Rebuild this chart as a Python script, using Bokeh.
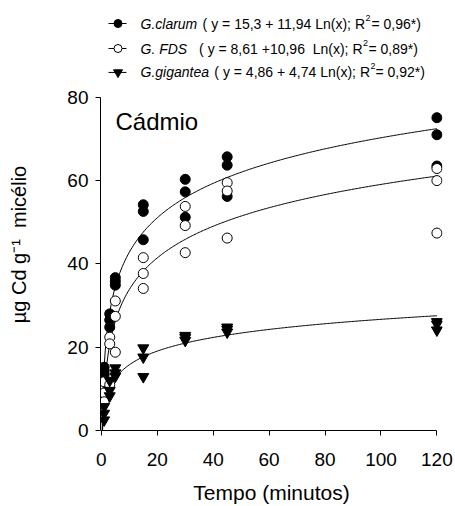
import numpy as np
from bokeh.plotting import figure
from bokeh.models import Range1d, FixedTicker
from bokeh.layouts import column
from bokeh.embed import file_html
from bokeh.resources import INLINE
from bokeh.core.properties import value

# ---------------- data ----------------
times = [1, 1, 1, 3, 3, 3, 5, 5, 5, 15, 15, 15, 30, 30, 30, 45, 45, 45, 120, 120, 120]
clarum = [15.2, 14.3, 13.4, 28.0, 26.5, 24.8, 36.7, 35.8, 34.9, 54.2, 52.6, 45.8,
          60.3, 57.3, 51.2, 65.7, 63.7, 56.2, 75.1, 71.0, 63.5]
fds = [11.7, 9.0, 6.9, 22.4, 20.8, 11.0, 31.1, 27.4, 18.8, 41.5, 37.7, 34.1,
       53.8, 49.2, 42.7, 59.5, 57.5, 46.2, 62.9, 60.0, 47.4]
gigantea = [5.7, 4.1, 2.5, 12.0, 9.6, 8.3, 15.0, 13.8, 13.0, 19.8, 17.6, 12.9,
            22.8, 22.3, 21.6, 24.8, 24.3, 23.6, 26.1, 25.5, 24.1]

species = ["G.clarum", "G. FDS", "G.gigantea"]
intercepts = [15.3, 8.61, 4.86]
slopes = [11.94, 10.96, 4.74]
eq_left = ["( y = 15,3 + 11,94 Ln(x); R", "( y = 8,61 +10,96\u00a0 Ln(x); R", "( y = 4,86 + 4,74 Ln(x); R"]
eq_sup = ["2", "2", "2"]
eq_right = ["= 0,96*)", "= 0,89*)", "= 0,92*)"]

x_ticks = [0, 20, 40, 60, 80, 100, 120]
y_ticks = [0, 20, 40, 60, 80]
x_label = "Tempo (minutos)"
y_label = "µg Cd g⁻¹\u00a0\u00a0micélio"
panel_title = "Cádmio"

FONT = "Liberation Sans"

# ---------------- layout constants (pixels) ----------------
W, H = 455, 506
LEG_H = 58            # height of the legend strip above the main figure
FR_L, FR_R = 100, 442  # main frame left/right
FR_B = 432            # main frame bottom (y = 0)
PX80 = 97             # pixel row of y = 80
X0, X1 = -0.3, 122.0
y_per_px = 80.0 / (FR_B - PX80)
Y_TOP = 80.0 + (PX80 - LEG_H) * y_per_px


def main_x(px):
    return X0 + (px - FR_L) * (X1 - X0) / (FR_R - FR_L)


def main_y(py):
    return (FR_B - py) * y_per_px


# ---------------- legend strip (top) ----------------
leg = figure(width=W, height=LEG_H, x_range=Range1d(FR_L, FR_R), y_range=Range1d(LEG_H, 0),
             x_axis_type=None, y_axis_type=None, toolbar_location=None,
             output_backend="svg", min_border_left=FR_L, min_border_right=W - FR_R,
             min_border_top=0, min_border_bottom=0)
leg.outline_line_color = None
leg.grid.visible = False

# ---------------- main plot ----------------
p = figure(width=W, height=H - LEG_H, x_range=Range1d(X0, X1), y_range=Range1d(0, Y_TOP),
           toolbar_location=None, output_backend="svg",
           min_border_left=FR_L, min_border_right=W - FR_R, min_border_top=0,
           min_border_bottom=H - FR_B)
p.outline_line_color = None
p.grid.visible = False

for ax in (p.xaxis[0], p.yaxis[0]):
    ax.axis_line_color = "black"
    ax.axis_line_width = 1
    ax.major_tick_line_color = "black"
    ax.major_tick_out = 5
    ax.major_tick_in = 0
    ax.minor_tick_line_color = None
    ax.major_label_text_font = FONT
    ax.major_label_text_font_size = "19px"
    ax.major_label_text_color = "black"
    ax.axis_label_text_font = FONT
    ax.axis_label_text_font_style = "normal"
    ax.axis_label_text_color = "black"

p.xaxis.ticker = FixedTicker(ticks=x_ticks)
p.yaxis.ticker = FixedTicker(ticks=y_ticks)
p.xaxis.bounds = (0, 120)
p.yaxis.bounds = (0, 80)
p.xaxis.major_label_standoff = 17
p.yaxis.major_label_standoff = 7
p.xaxis.axis_label = x_label
p.xaxis.axis_label_text_font_size = "21px"
p.xaxis.axis_label_standoff = 12
p.yaxis.axis_label = y_label
p.yaxis.axis_label_text_font_size = "20px"
p.yaxis.axis_label_standoff = 34

# regression curves from the legend equations
t_fit = np.concatenate([np.linspace(0.2, 1.0, 17), np.linspace(1.5, 120, 238)])
for a, b in zip(intercepts, slopes):
    p.line(t_fit, a + b * np.log(t_fit), line_color="black", line_width=1)

p.scatter(times, clarum, marker="circle", size=10, fill_color="black", line_color="black")
p.scatter(times, fds, marker="circle", size=10, fill_color="white", line_color="black", line_width=1)
p.scatter(times, gigantea, marker="inverted_triangle", size=11, fill_color="black", line_color="black")

p.text(x=[main_x(115)], y=[main_y(121)], text=[panel_title], text_font=value(FONT),
       text_font_size="24px", text_baseline="alphabetic", text_align="left", text_color="black")

# ---------------- legend rows ----------------
row_y = [23, 48, 72]
sup_x = [365, 362.5, 370]
right_x = [371, 368, 375]
marker_kinds = ["circle", "circle", "inverted_triangle"]
marker_fill = ["black", "white", "black"]

for i in range(3):
    if row_y[i] < LEG_H - 8:
        fig, fx, fy = leg, (lambda v: v), (lambda v: v)
    else:
        fig, fx, fy = p, main_x, main_y
    yy = row_y[i]
    fig.segment(x0=[fx(108)], x1=[fx(126)], y0=[fy(yy)], y1=[fy(yy)], line_color="black", line_width=1)
    fig.scatter(x=[fx(117.5)], y=[fy(yy)], marker=marker_kinds[i], size=8 if i < 2 else 9,
                fill_color=marker_fill[i], line_color="black", line_width=1)
    fig.text(x=[fx(140)], y=[fy(yy)], text=[species[i]], text_font=value(FONT),
             text_font_style="italic", text_font_size="14px", text_baseline="middle",
             text_align="left", text_color="black")
    fig.text(x=[fx(sup_x[i] - 0.5)], y=[fy(yy)], text=[eq_left[i]], text_font=value(FONT),
             text_font_size="14px", text_baseline="middle", text_align="right", text_color="black")
    fig.text(x=[fx(sup_x[i])], y=[fy(yy - 6)], text=[eq_sup[i]], text_font=value(FONT),
             text_font_size="9px", text_baseline="middle", text_align="left", text_color="black")
    fig.text(x=[fx(right_x[i])], y=[fy(yy)], text=[eq_right[i]], text_font=value(FONT),
             text_font_size="14px", text_baseline="middle", text_align="left", text_color="black")

layout = column(leg, p, spacing=0)
open("out.html", "w").write(file_html(layout, INLINE))
